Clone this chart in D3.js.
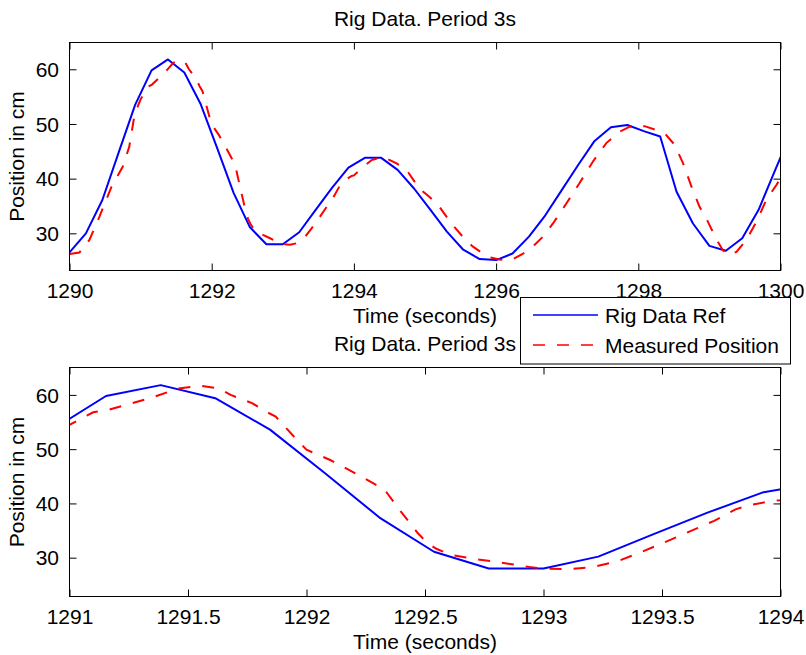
<!DOCTYPE html>
<html>
<head>
<meta charset="utf-8">
<script src="https://cdn.jsdelivr.net/npm/d3@7"></script>
<style>
  body { margin: 0; background: #fff; }
  svg { display: block; }
  text { font-family: "Liberation Sans", Arial, Helvetica, sans-serif; font-size: 21px; fill: #000; }
</style>
</head>
<body>
<div id="chart"></div>
<script>
// Reference signal sampled every 3/13 s
const refTime = [1290.000, 1290.231, 1290.462, 1290.692, 1290.923, 1291.154, 1291.385, 1291.615,
  1291.846, 1292.077, 1292.308, 1292.538, 1292.769, 1293.000, 1293.231, 1293.462, 1293.692,
  1293.923, 1294.154, 1294.385, 1294.615, 1294.846, 1295.077, 1295.308, 1295.538, 1295.769,
  1296.000, 1296.231, 1296.462, 1296.692, 1296.923, 1297.154, 1297.385, 1297.615, 1297.846,
  1298.077, 1298.308, 1298.538, 1298.769, 1299.000, 1299.231, 1299.462, 1299.692, 1299.923,
  1300.154];
const refPos = [26.5, 30.0, 36.1, 44.8, 53.5, 59.8, 61.8, 59.4,
  53.6, 45.6, 37.4, 31.1, 28.0, 28.0, 30.2, 34.3, 38.3,
  42.0, 43.8, 43.8, 41.6, 38.2, 34.3, 30.3, 27.0, 25.3,
  25.1, 26.3, 29.4, 33.3, 37.9, 42.5, 46.9, 49.4, 49.8,
  48.7, 47.7, 37.6, 31.8, 27.7, 26.8, 29.1, 34.3, 41.5,
  48.6];

// Measured rig position
const measTime = [1290.00, 1290.14, 1290.28, 1290.42, 1290.59, 1290.75, 1290.84, 1290.91, 1290.96,
  1291.00, 1291.10, 1291.16, 1291.34, 1291.46, 1291.55, 1291.63, 1291.68, 1291.77, 1291.83,
  1291.87, 1291.96, 1292.00, 1292.10, 1292.20, 1292.29, 1292.33, 1292.40, 1292.47, 1292.51,
  1292.55, 1292.61, 1292.72, 1292.82, 1292.94, 1293.00, 1293.10, 1293.20, 1293.31, 1293.41,
  1293.51, 1293.62, 1293.72, 1293.81, 1293.87, 1293.97, 1294.00, 1294.10, 1294.25, 1294.41,
  1294.60, 1294.74, 1294.92, 1295.06, 1295.20, 1295.37, 1295.53, 1295.67, 1295.88, 1296.05,
  1296.21, 1296.38, 1296.52, 1296.66, 1296.80, 1296.99, 1297.17, 1297.36, 1297.55, 1297.74,
  1297.88, 1298.09, 1298.25, 1298.39, 1298.51, 1298.63, 1298.74, 1298.86, 1298.98, 1299.09,
  1299.19, 1299.28, 1299.38, 1299.52, 1299.66, 1299.80, 1299.94, 1300.00];
const measPos = [26.2, 26.5, 28.8, 33.0, 38.5, 42.2, 45.8, 51.3, 53.2,
  54.5, 56.8, 57.2, 59.4, 61.2, 61.7, 61.2, 60.0, 58.5, 56.9,
  56.0, 51.7, 49.9, 48.0, 45.7, 43.5, 42.5, 38.4, 34.5, 32.7,
  31.6, 30.5, 29.7, 29.1, 28.3, 28.0, 27.9, 28.2, 29.3, 31.0,
  32.8, 34.9, 36.8, 38.9, 39.7, 40.5, 40.6, 41.8, 43.4, 44.0,
  42.8, 41.6, 38.2, 36.7, 34.9, 31.8, 29.4, 27.6, 25.7, 25.2,
  25.1, 26.3, 27.6, 29.4, 31.8, 35.5, 39.1, 43.1, 46.5, 48.6,
  49.5, 49.6, 48.9, 48.0, 46.2, 42.8, 38.8, 34.9, 32.1, 29.1,
  26.9, 26.0, 26.6, 28.8, 32.1, 36.1, 38.8, 40.1];

const topTicksX = [1290, 1292, 1294, 1296, 1298, 1300];
const bottomTicksX = [1291, 1291.5, 1292, 1292.5, 1293, 1293.5, 1294];
const ticksY = [30, 40, 50, 60];
const topRange = [1290, 1300];
const bottomRange = [1291, 1294];
const topYRange = [23.2, 64.9];
const bottomYRange = [22.85, 65.05];

const chartTitle = "Rig Data. Period 3s";
const xLabel = "Time (seconds)";
const yLabel = "Position in cm";
const seriesNames = ["Rig Data Ref", "Measured Position"];

const W = 806, H = 655;
const left = 69.5, right = 780.5;
const tickLen = 7;
const blue = "#0000ff", red = "#ff0000";
const dash = "12,12";

const svg = d3.select("#chart").append("svg").attr("width", W).attr("height", H);

const panels = [
  { xDomain: topRange, yDomain: topYRange, xTicks: topTicksX, top: 42.5, bottom: 270.5 },
  { xDomain: bottomRange, yDomain: bottomYRange, xTicks: bottomTicksX, top: 367.5, bottom: 596.5 }
];

const ref = refTime.map((t, i) => ({ t, v: refPos[i] }));
const meas = measTime.map((t, i) => ({ t, v: measPos[i] }));

panels.forEach((p, idx) => {
  const x = d3.scaleLinear().domain(p.xDomain).range([left, right]);
  const y = d3.scaleLinear().domain(p.yDomain).range([p.bottom, p.top]);
  const g = svg.append("g");

  const clipId = "clip" + idx;
  svg.append("clipPath").attr("id", clipId)
    .append("rect").attr("x", left).attr("y", p.top)
    .attr("width", right - left).attr("height", p.bottom - p.top);

  const line = d3.line().x(d => x(d.t)).y(d => y(d.v));
  const plot = g.append("g").attr("clip-path", `url(#${clipId})`);
  plot.append("path").datum(ref).attr("d", line)
    .attr("fill", "none").attr("stroke", blue).attr("stroke-width", 2)
    .attr("stroke-linejoin", "round");
  plot.append("path").datum(meas).attr("d", line)
    .attr("fill", "none").attr("stroke", red).attr("stroke-width", 2)
    .attr("stroke-dasharray", dash);

  const fmt = d => String(d);
  // bottom axis with labels, ticks pointing inward
  const xb = g.append("g").attr("transform", `translate(0,${p.bottom})`)
    .call(d3.axisBottom(x).tickValues(p.xTicks).tickSize(-tickLen).tickSizeOuter(0)
      .tickPadding(13).tickFormat(fmt));
  const xt = g.append("g").attr("transform", `translate(0,${p.top})`)
    .call(d3.axisTop(x).tickValues(p.xTicks).tickSize(-tickLen).tickSizeOuter(0).tickFormat(""));
  const yl = g.append("g").attr("transform", `translate(${left},0)`)
    .call(d3.axisLeft(y).tickValues(ticksY).tickSize(-tickLen).tickSizeOuter(0)
      .tickPadding(10.5).tickFormat(fmt));
  const yr = g.append("g").attr("transform", `translate(${right},0)`)
    .call(d3.axisRight(y).tickValues(ticksY).tickSize(-tickLen).tickSizeOuter(0).tickFormat(""));
  [xb, xt, yl, yr].forEach(a => {
    a.select(".domain").remove();
    a.selectAll("text").attr("font-family", null).attr("font-size", null);
    a.selectAll("line").attr("stroke", "#000");
  });
  yl.selectAll("text").attr("dy", "0.34em");

  g.append("rect").attr("x", left).attr("y", p.top)
    .attr("width", right - left).attr("height", p.bottom - p.top)
    .attr("fill", "none").attr("stroke", "#000").attr("stroke-width", 1);

  const cx = (left + right) / 2;
  g.append("text").attr("x", cx).attr("y", p.top - 16.8).attr("text-anchor", "middle").text(chartTitle);
  g.append("text").attr("x", cx).attr("y", p.bottom + 52).attr("text-anchor", "middle").text(xLabel);
  g.append("text")
    .attr("transform", `translate(24,${(p.top + p.bottom) / 2}) rotate(-90)`)
    .attr("text-anchor", "middle").text(yLabel);
});

// legend, drawn above both panels
const lg = svg.append("g");
lg.append("rect").attr("x", 520.5).attr("y", 297.5).attr("width", 270).attr("height", 66.5)
  .attr("fill", "#fff").attr("stroke", "#000").attr("stroke-width", 1);
const rows = [
  { name: seriesNames[0], color: blue, dash: null, y: 315 },
  { name: seriesNames[1], color: red, dash: dash, y: 345 }
];
rows.forEach(r => {
  lg.append("line").attr("x1", 533).attr("x2", 598).attr("y1", r.y).attr("y2", r.y)
    .attr("stroke", r.color).attr("stroke-width", 1.5)
    .attr("stroke-dasharray", r.dash);
  lg.append("text").attr("x", 605).attr("y", r.y + 7.5).text(r.name);
});
</script>
</body>
</html>
